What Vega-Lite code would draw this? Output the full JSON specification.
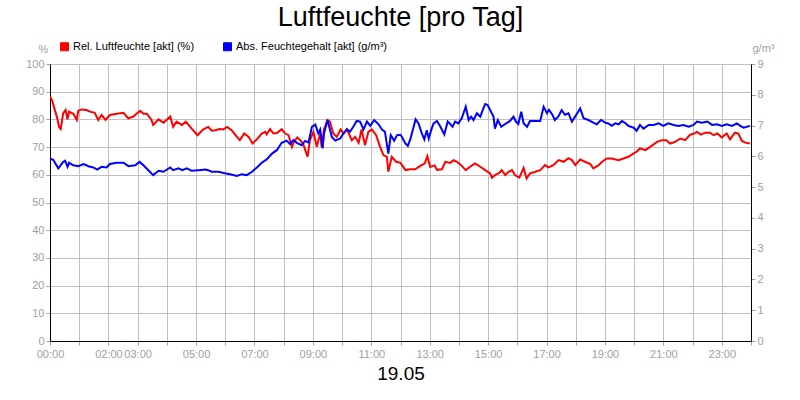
{
  "$schema": "https://vega.github.io/schema/vega-lite/v6.json",
  "width": 701,
  "height": 277,
  "autosize": {"type": "none"},
  "padding": {"left": 50, "top": 64, "right": 49, "bottom": 59},
  "background": "white",
  "title": {"text": "Luftfeuchte [pro Tag]", "font": "Liberation Sans", "fontSize": 27, "fontWeight": "normal", "color": "black", "anchor": "middle", "frame": "group", "offset": 9},
  "config": {
    "view": {"stroke": "black", "strokeWidth": 1},
    "axis": {"labelFont": "Liberation Sans", "labelFontSize": 11, "labelColor": "#a0a0a0", "tickColor": "#a0a0a0", "tickSize": 4, "domainColor": "black", "gridColor": "#c0c0c0", "gridWidth": 1, "titleFont": "Liberation Sans", "titleFontWeight": "normal"},
    "legend": {"labelFont": "Liberation Sans", "labelFontSize": 11, "labelColor": "black"}
  },
  "datasets": {
    "rel": [
      {"zeit": "2024-05-19T00:00", "wert": 88.4}, {"zeit": "2024-05-19T00:05", "wert": 86.4}, {"zeit": "2024-05-19T00:14", "wert": 81.0}, {"zeit": "2024-05-19T00:19", "wert": 77.1}, {"zeit": "2024-05-19T00:22", "wert": 76.5}, {"zeit": "2024-05-19T00:27", "wert": 82.2}, {"zeit": "2024-05-19T00:32", "wert": 83.4}, {"zeit": "2024-05-19T00:36", "wert": 80.0}, {"zeit": "2024-05-19T00:39", "wert": 82.8}, {"zeit": "2024-05-19T00:48", "wert": 82.0}, {"zeit": "2024-05-19T00:55", "wert": 79.8}, {"zeit": "2024-05-19T00:58", "wert": 83.1},
      {"zeit": "2024-05-19T01:05", "wert": 83.6}, {"zeit": "2024-05-19T01:15", "wert": 83.4}, {"zeit": "2024-05-19T01:22", "wert": 82.8}, {"zeit": "2024-05-19T01:32", "wert": 82.4}, {"zeit": "2024-05-19T01:39", "wert": 79.8}, {"zeit": "2024-05-19T01:46", "wert": 81.6}, {"zeit": "2024-05-19T01:54", "wert": 79.8},
      {"zeit": "2024-05-19T02:03", "wert": 81.6}, {"zeit": "2024-05-19T02:17", "wert": 82.0}, {"zeit": "2024-05-19T02:31", "wert": 82.4}, {"zeit": "2024-05-19T02:41", "wert": 80.4}, {"zeit": "2024-05-19T02:51", "wert": 81.0},
      {"zeit": "2024-05-19T03:05", "wert": 83.1}, {"zeit": "2024-05-19T03:12", "wert": 82.0}, {"zeit": "2024-05-19T03:19", "wert": 82.0}, {"zeit": "2024-05-19T03:28", "wert": 80.0}, {"zeit": "2024-05-19T03:32", "wert": 78.0}, {"zeit": "2024-05-19T03:43", "wert": 80.0}, {"zeit": "2024-05-19T03:53", "wert": 78.8},
      {"zeit": "2024-05-19T04:07", "wert": 81.0}, {"zeit": "2024-05-19T04:13", "wert": 77.3}, {"zeit": "2024-05-19T04:20", "wert": 79.2}, {"zeit": "2024-05-19T04:31", "wert": 78.0}, {"zeit": "2024-05-19T04:39", "wert": 79.2}, {"zeit": "2024-05-19T04:51", "wert": 76.7},
      {"zeit": "2024-05-19T05:03", "wert": 74.3}, {"zeit": "2024-05-19T05:15", "wert": 76.4}, {"zeit": "2024-05-19T05:25", "wert": 77.3}, {"zeit": "2024-05-19T05:32", "wert": 75.9}, {"zeit": "2024-05-19T05:39", "wert": 76.1}, {"zeit": "2024-05-19T05:49", "wert": 76.5}, {"zeit": "2024-05-19T05:56", "wert": 76.4},
      {"zeit": "2024-05-19T06:04", "wert": 77.3}, {"zeit": "2024-05-19T06:13", "wert": 76.1}, {"zeit": "2024-05-19T06:24", "wert": 73.7}, {"zeit": "2024-05-19T06:30", "wert": 72.5}, {"zeit": "2024-05-19T06:39", "wert": 74.9}, {"zeit": "2024-05-19T06:48", "wert": 73.7}, {"zeit": "2024-05-19T06:56", "wert": 71.3},
      {"zeit": "2024-05-19T07:05", "wert": 72.8}, {"zeit": "2024-05-19T07:15", "wert": 74.9}, {"zeit": "2024-05-19T07:22", "wert": 75.5}, {"zeit": "2024-05-19T07:25", "wert": 74.6}, {"zeit": "2024-05-19T07:32", "wert": 76.5}, {"zeit": "2024-05-19T07:39", "wert": 74.9}, {"zeit": "2024-05-19T07:46", "wert": 75.1}, {"zeit": "2024-05-19T07:56", "wert": 76.5},
      {"zeit": "2024-05-19T08:03", "wert": 74.9}, {"zeit": "2024-05-19T08:10", "wert": 74.3}, {"zeit": "2024-05-19T08:17", "wert": 70.1}, {"zeit": "2024-05-19T08:21", "wert": 71.9}, {"zeit": "2024-05-19T08:28", "wert": 73.5}, {"zeit": "2024-05-19T08:35", "wert": 72.3}, {"zeit": "2024-05-19T08:41", "wert": 70.7}, {"zeit": "2024-05-19T08:49", "wert": 66.5}, {"zeit": "2024-05-19T08:54", "wert": 72.5},
      {"zeit": "2024-05-19T09:01", "wert": 75.5}, {"zeit": "2024-05-19T09:08", "wert": 70.1}, {"zeit": "2024-05-19T09:15", "wert": 75.0}, {"zeit": "2024-05-19T09:18", "wert": 70.1}, {"zeit": "2024-05-19T09:23", "wert": 76.5}, {"zeit": "2024-05-19T09:30", "wert": 79.8}, {"zeit": "2024-05-19T09:35", "wert": 79.2}, {"zeit": "2024-05-19T09:42", "wert": 74.9}, {"zeit": "2024-05-19T09:49", "wert": 73.7}, {"zeit": "2024-05-19T09:57", "wert": 76.4},
      {"zeit": "2024-05-19T10:03", "wert": 74.9}, {"zeit": "2024-05-19T10:10", "wert": 76.4}, {"zeit": "2024-05-19T10:20", "wert": 72.5}, {"zeit": "2024-05-19T10:27", "wert": 73.7}, {"zeit": "2024-05-19T10:34", "wert": 71.6}, {"zeit": "2024-05-19T10:40", "wert": 76.4}, {"zeit": "2024-05-19T10:47", "wert": 70.7}, {"zeit": "2024-05-19T10:54", "wert": 75.5},
      {"zeit": "2024-05-19T11:01", "wert": 76.4}, {"zeit": "2024-05-19T11:10", "wert": 74.3}, {"zeit": "2024-05-19T11:18", "wert": 70.1}, {"zeit": "2024-05-19T11:25", "wert": 67.1}, {"zeit": "2024-05-19T11:32", "wert": 66.5}, {"zeit": "2024-05-19T11:35", "wert": 61.1}, {"zeit": "2024-05-19T11:42", "wert": 66.5}, {"zeit": "2024-05-19T11:51", "wert": 64.7},
      {"zeit": "2024-05-19T12:00", "wert": 64.3}, {"zeit": "2024-05-19T12:10", "wert": 61.7}, {"zeit": "2024-05-19T12:20", "wert": 62.0}, {"zeit": "2024-05-19T12:30", "wert": 62.0}, {"zeit": "2024-05-19T12:40", "wert": 63.1}, {"zeit": "2024-05-19T12:50", "wert": 64.1}, {"zeit": "2024-05-19T12:55", "wert": 66.7},
      {"zeit": "2024-05-19T13:01", "wert": 62.8}, {"zeit": "2024-05-19T13:10", "wert": 63.4}, {"zeit": "2024-05-19T13:15", "wert": 61.8}, {"zeit": "2024-05-19T13:25", "wert": 62.0}, {"zeit": "2024-05-19T13:32", "wert": 64.7}, {"zeit": "2024-05-19T13:42", "wert": 64.3}, {"zeit": "2024-05-19T13:49", "wert": 65.3}, {"zeit": "2024-05-19T13:56", "wert": 64.7},
      {"zeit": "2024-05-19T14:05", "wert": 63.4}, {"zeit": "2024-05-19T14:14", "wert": 61.7}, {"zeit": "2024-05-19T14:23", "wert": 62.9}, {"zeit": "2024-05-19T14:33", "wert": 64.1}, {"zeit": "2024-05-19T14:44", "wert": 62.9}, {"zeit": "2024-05-19T14:54", "wert": 61.7},
      {"zeit": "2024-05-19T15:04", "wert": 60.5}, {"zeit": "2024-05-19T15:08", "wert": 58.9}, {"zeit": "2024-05-19T15:14", "wert": 59.9}, {"zeit": "2024-05-19T15:23", "wert": 60.7}, {"zeit": "2024-05-19T15:28", "wert": 61.7}, {"zeit": "2024-05-19T15:35", "wert": 59.9}, {"zeit": "2024-05-19T15:42", "wert": 61.1}, {"zeit": "2024-05-19T15:49", "wert": 61.7}, {"zeit": "2024-05-19T15:55", "wert": 59.9},
      {"zeit": "2024-05-19T16:04", "wert": 59.0}, {"zeit": "2024-05-19T16:13", "wert": 62.5}, {"zeit": "2024-05-19T16:19", "wert": 58.7}, {"zeit": "2024-05-19T16:26", "wert": 60.5}, {"zeit": "2024-05-19T16:37", "wert": 61.1}, {"zeit": "2024-05-19T16:47", "wert": 61.7}, {"zeit": "2024-05-19T16:57", "wert": 63.5},
      {"zeit": "2024-05-19T17:04", "wert": 62.7}, {"zeit": "2024-05-19T17:14", "wert": 63.5}, {"zeit": "2024-05-19T17:25", "wert": 65.3}, {"zeit": "2024-05-19T17:35", "wert": 64.7}, {"zeit": "2024-05-19T17:45", "wert": 66.0}, {"zeit": "2024-05-19T17:52", "wert": 65.3}, {"zeit": "2024-05-19T17:59", "wert": 63.5},
      {"zeit": "2024-05-19T18:09", "wert": 65.5}, {"zeit": "2024-05-19T18:19", "wert": 64.7}, {"zeit": "2024-05-19T18:30", "wert": 63.9}, {"zeit": "2024-05-19T18:36", "wert": 62.3}, {"zeit": "2024-05-19T18:47", "wert": 63.5}, {"zeit": "2024-05-19T18:54", "wert": 64.7},
      {"zeit": "2024-05-19T19:04", "wert": 65.9}, {"zeit": "2024-05-19T19:14", "wert": 65.9}, {"zeit": "2024-05-19T19:28", "wert": 65.3}, {"zeit": "2024-05-19T19:38", "wert": 65.9}, {"zeit": "2024-05-19T19:48", "wert": 66.5}, {"zeit": "2024-05-19T19:59", "wert": 67.7},
      {"zeit": "2024-05-19T20:05", "wert": 68.3}, {"zeit": "2024-05-19T20:12", "wert": 69.5}, {"zeit": "2024-05-19T20:23", "wert": 68.9}, {"zeit": "2024-05-19T20:33", "wert": 70.1}, {"zeit": "2024-05-19T20:47", "wert": 71.9}, {"zeit": "2024-05-19T20:57", "wert": 72.5},
      {"zeit": "2024-05-19T21:06", "wert": 72.5}, {"zeit": "2024-05-19T21:14", "wert": 71.3}, {"zeit": "2024-05-19T21:24", "wert": 71.9}, {"zeit": "2024-05-19T21:35", "wert": 73.1}, {"zeit": "2024-05-19T21:45", "wert": 72.5}, {"zeit": "2024-05-19T21:54", "wert": 74.3},
      {"zeit": "2024-05-19T22:03", "wert": 74.9}, {"zeit": "2024-05-19T22:09", "wert": 75.5}, {"zeit": "2024-05-19T22:17", "wert": 74.5}, {"zeit": "2024-05-19T22:26", "wert": 75.2}, {"zeit": "2024-05-19T22:36", "wert": 75.2}, {"zeit": "2024-05-19T22:43", "wert": 74.3}, {"zeit": "2024-05-19T22:51", "wert": 74.9},
      {"zeit": "2024-05-19T23:00", "wert": 73.5}, {"zeit": "2024-05-19T23:10", "wert": 74.9}, {"zeit": "2024-05-19T23:17", "wert": 72.8}, {"zeit": "2024-05-19T23:27", "wert": 75.2}, {"zeit": "2024-05-19T23:34", "wert": 74.9}, {"zeit": "2024-05-19T23:41", "wert": 72.3}, {"zeit": "2024-05-19T23:48", "wert": 71.6}, {"zeit": "2024-05-19T23:58", "wert": 71.3}
    ],
    "abs": [
      {"zeit": "2024-05-19T00:00", "wert": 5.93}, {"zeit": "2024-05-19T00:07", "wert": 5.88}, {"zeit": "2024-05-19T00:17", "wert": 5.61}, {"zeit": "2024-05-19T00:27", "wert": 5.82}, {"zeit": "2024-05-19T00:31", "wert": 5.86}, {"zeit": "2024-05-19T00:36", "wert": 5.66}, {"zeit": "2024-05-19T00:39", "wert": 5.79}, {"zeit": "2024-05-19T00:48", "wert": 5.71}, {"zeit": "2024-05-19T00:58", "wert": 5.68},
      {"zeit": "2024-05-19T01:09", "wert": 5.75}, {"zeit": "2024-05-19T01:19", "wert": 5.68}, {"zeit": "2024-05-19T01:29", "wert": 5.64}, {"zeit": "2024-05-19T01:37", "wert": 5.57}, {"zeit": "2024-05-19T01:46", "wert": 5.66}, {"zeit": "2024-05-19T01:56", "wert": 5.64},
      {"zeit": "2024-05-19T02:03", "wert": 5.75}, {"zeit": "2024-05-19T02:17", "wert": 5.79}, {"zeit": "2024-05-19T02:31", "wert": 5.79}, {"zeit": "2024-05-19T02:41", "wert": 5.68}, {"zeit": "2024-05-19T02:55", "wert": 5.71},
      {"zeit": "2024-05-19T03:04", "wert": 5.82}, {"zeit": "2024-05-19T03:12", "wert": 5.71}, {"zeit": "2024-05-19T03:22", "wert": 5.55}, {"zeit": "2024-05-19T03:32", "wert": 5.39}, {"zeit": "2024-05-19T03:43", "wert": 5.53}, {"zeit": "2024-05-19T03:53", "wert": 5.5},
      {"zeit": "2024-05-19T04:07", "wert": 5.64}, {"zeit": "2024-05-19T04:13", "wert": 5.55}, {"zeit": "2024-05-19T04:24", "wert": 5.61}, {"zeit": "2024-05-19T04:32", "wert": 5.55}, {"zeit": "2024-05-19T04:41", "wert": 5.61}, {"zeit": "2024-05-19T04:51", "wert": 5.53},
      {"zeit": "2024-05-19T05:05", "wert": 5.55}, {"zeit": "2024-05-19T05:19", "wert": 5.57}, {"zeit": "2024-05-19T05:25", "wert": 5.55}, {"zeit": "2024-05-19T05:32", "wert": 5.5}, {"zeit": "2024-05-19T05:46", "wert": 5.5}, {"zeit": "2024-05-19T05:59", "wert": 5.45},
      {"zeit": "2024-05-19T06:10", "wert": 5.42}, {"zeit": "2024-05-19T06:24", "wert": 5.36}, {"zeit": "2024-05-19T06:34", "wert": 5.42}, {"zeit": "2024-05-19T06:44", "wert": 5.39}, {"zeit": "2024-05-19T06:55", "wert": 5.5},
      {"zeit": "2024-05-19T07:05", "wert": 5.64}, {"zeit": "2024-05-19T07:15", "wert": 5.79}, {"zeit": "2024-05-19T07:25", "wert": 5.9}, {"zeit": "2024-05-19T07:36", "wert": 6.09}, {"zeit": "2024-05-19T07:46", "wert": 6.2}, {"zeit": "2024-05-19T07:56", "wert": 6.44},
      {"zeit": "2024-05-19T08:06", "wert": 6.51}, {"zeit": "2024-05-19T08:13", "wert": 6.4}, {"zeit": "2024-05-19T08:20", "wert": 6.53}, {"zeit": "2024-05-19T08:27", "wert": 6.44}, {"zeit": "2024-05-19T08:37", "wert": 6.36}, {"zeit": "2024-05-19T08:44", "wert": 6.5}, {"zeit": "2024-05-19T08:51", "wert": 6.45}, {"zeit": "2024-05-19T08:58", "wert": 6.96},
      {"zeit": "2024-05-19T09:05", "wert": 7.03}, {"zeit": "2024-05-19T09:11", "wert": 6.75}, {"zeit": "2024-05-19T09:15", "wert": 6.87}, {"zeit": "2024-05-19T09:20", "wert": 6.26}, {"zeit": "2024-05-19T09:23", "wert": 6.75}, {"zeit": "2024-05-19T09:30", "wert": 7.18}, {"zeit": "2024-05-19T09:39", "wert": 6.63}, {"zeit": "2024-05-19T09:46", "wert": 6.51}, {"zeit": "2024-05-19T09:56", "wert": 6.58},
      {"zeit": "2024-05-19T10:03", "wert": 6.75}, {"zeit": "2024-05-19T10:10", "wert": 6.88}, {"zeit": "2024-05-19T10:16", "wert": 6.8}, {"zeit": "2024-05-19T10:23", "wert": 6.96}, {"zeit": "2024-05-19T10:30", "wert": 7.15}, {"zeit": "2024-05-19T10:37", "wert": 7.13}, {"zeit": "2024-05-19T10:44", "wert": 6.87}, {"zeit": "2024-05-19T10:51", "wert": 7.13}, {"zeit": "2024-05-19T10:58", "wert": 6.99},
      {"zeit": "2024-05-19T11:06", "wert": 7.18}, {"zeit": "2024-05-19T11:15", "wert": 7.04}, {"zeit": "2024-05-19T11:22", "wert": 6.87}, {"zeit": "2024-05-19T11:28", "wert": 6.8}, {"zeit": "2024-05-19T11:35", "wert": 6.09}, {"zeit": "2024-05-19T11:40", "wert": 6.69}, {"zeit": "2024-05-19T11:47", "wert": 6.51}, {"zeit": "2024-05-19T11:53", "wert": 6.69},
      {"zeit": "2024-05-19T12:00", "wert": 6.7}, {"zeit": "2024-05-19T12:03", "wert": 6.63}, {"zeit": "2024-05-19T12:10", "wert": 6.42}, {"zeit": "2024-05-19T12:15", "wert": 6.34}, {"zeit": "2024-05-19T12:20", "wert": 6.55}, {"zeit": "2024-05-19T12:27", "wert": 6.96}, {"zeit": "2024-05-19T12:31", "wert": 7.2}, {"zeit": "2024-05-19T12:37", "wert": 7.07}, {"zeit": "2024-05-19T12:44", "wert": 6.74}, {"zeit": "2024-05-19T12:49", "wert": 6.55}, {"zeit": "2024-05-19T12:54", "wert": 6.85}, {"zeit": "2024-05-19T12:58", "wert": 6.58},
      {"zeit": "2024-05-19T13:03", "wert": 6.85}, {"zeit": "2024-05-19T13:08", "wert": 7.07}, {"zeit": "2024-05-19T13:15", "wert": 7.15}, {"zeit": "2024-05-19T13:22", "wert": 6.96}, {"zeit": "2024-05-19T13:30", "wert": 6.71}, {"zeit": "2024-05-19T13:37", "wert": 7.13}, {"zeit": "2024-05-19T13:42", "wert": 7.05}, {"zeit": "2024-05-19T13:47", "wert": 6.96}, {"zeit": "2024-05-19T13:52", "wert": 7.13}, {"zeit": "2024-05-19T13:59", "wert": 7.07},
      {"zeit": "2024-05-19T14:06", "wert": 7.24}, {"zeit": "2024-05-19T14:14", "wert": 7.61}, {"zeit": "2024-05-19T14:20", "wert": 7.18}, {"zeit": "2024-05-19T14:25", "wert": 7.29}, {"zeit": "2024-05-19T14:30", "wert": 7.18}, {"zeit": "2024-05-19T14:37", "wert": 7.4}, {"zeit": "2024-05-19T14:44", "wert": 7.29}, {"zeit": "2024-05-19T14:49", "wert": 7.51}, {"zeit": "2024-05-19T14:54", "wert": 7.7}, {"zeit": "2024-05-19T14:59", "wert": 7.67},
      {"zeit": "2024-05-19T15:06", "wert": 7.45}, {"zeit": "2024-05-19T15:11", "wert": 7.29}, {"zeit": "2024-05-19T15:14", "wert": 6.9}, {"zeit": "2024-05-19T15:20", "wert": 7.18}, {"zeit": "2024-05-19T15:27", "wert": 6.96}, {"zeit": "2024-05-19T15:35", "wert": 7.05}, {"zeit": "2024-05-19T15:45", "wert": 7.15}, {"zeit": "2024-05-19T15:52", "wert": 7.29}, {"zeit": "2024-05-19T15:57", "wert": 7.13},
      {"zeit": "2024-05-19T16:02", "wert": 7.05}, {"zeit": "2024-05-19T16:08", "wert": 7.45}, {"zeit": "2024-05-19T16:13", "wert": 7.07}, {"zeit": "2024-05-19T16:20", "wert": 6.96}, {"zeit": "2024-05-19T16:26", "wert": 7.15}, {"zeit": "2024-05-19T16:37", "wert": 7.15}, {"zeit": "2024-05-19T16:47", "wert": 7.15}, {"zeit": "2024-05-19T16:54", "wert": 7.61},
      {"zeit": "2024-05-19T17:01", "wert": 7.4}, {"zeit": "2024-05-19T17:05", "wert": 7.51}, {"zeit": "2024-05-19T17:12", "wert": 7.35}, {"zeit": "2024-05-19T17:17", "wert": 7.18}, {"zeit": "2024-05-19T17:24", "wert": 7.29}, {"zeit": "2024-05-19T17:31", "wert": 7.5}, {"zeit": "2024-05-19T17:38", "wert": 7.35}, {"zeit": "2024-05-19T17:45", "wert": 7.4}, {"zeit": "2024-05-19T17:52", "wert": 7.13},
      {"zeit": "2024-05-19T18:02", "wert": 7.37}, {"zeit": "2024-05-19T18:09", "wert": 7.56}, {"zeit": "2024-05-19T18:16", "wert": 7.24}, {"zeit": "2024-05-19T18:26", "wert": 7.18}, {"zeit": "2024-05-19T18:37", "wert": 7.09}, {"zeit": "2024-05-19T18:43", "wert": 7.04}, {"zeit": "2024-05-19T18:52", "wert": 7.18},
      {"zeit": "2024-05-19T19:01", "wert": 7.09}, {"zeit": "2024-05-19T19:07", "wert": 7.07}, {"zeit": "2024-05-19T19:14", "wert": 6.99}, {"zeit": "2024-05-19T19:21", "wert": 7.07}, {"zeit": "2024-05-19T19:28", "wert": 7.04}, {"zeit": "2024-05-19T19:35", "wert": 7.15}, {"zeit": "2024-05-19T19:41", "wert": 7.09}, {"zeit": "2024-05-19T19:48", "wert": 6.99}, {"zeit": "2024-05-19T19:59", "wert": 6.93},
      {"zeit": "2024-05-19T20:05", "wert": 6.83}, {"zeit": "2024-05-19T20:12", "wert": 7.02}, {"zeit": "2024-05-19T20:19", "wert": 6.9}, {"zeit": "2024-05-19T20:30", "wert": 7.02}, {"zeit": "2024-05-19T20:40", "wert": 7.02}, {"zeit": "2024-05-19T20:50", "wert": 7.07},
      {"zeit": "2024-05-19T21:00", "wert": 6.99}, {"zeit": "2024-05-19T21:10", "wert": 7.07}, {"zeit": "2024-05-19T21:21", "wert": 7.02}, {"zeit": "2024-05-19T21:31", "wert": 6.99}, {"zeit": "2024-05-19T21:41", "wert": 7.02}, {"zeit": "2024-05-19T21:52", "wert": 6.96},
      {"zeit": "2024-05-19T22:02", "wert": 7.02}, {"zeit": "2024-05-19T22:09", "wert": 7.13}, {"zeit": "2024-05-19T22:19", "wert": 7.09}, {"zeit": "2024-05-19T22:30", "wert": 7.13}, {"zeit": "2024-05-19T22:40", "wert": 7.02}, {"zeit": "2024-05-19T22:50", "wert": 7.04},
      {"zeit": "2024-05-19T23:00", "wert": 6.99}, {"zeit": "2024-05-19T23:10", "wert": 7.04}, {"zeit": "2024-05-19T23:21", "wert": 6.99}, {"zeit": "2024-05-19T23:31", "wert": 7.07}, {"zeit": "2024-05-19T23:38", "wert": 6.99}, {"zeit": "2024-05-19T23:45", "wert": 6.93}, {"zeit": "2024-05-19T23:58", "wert": 6.99}
    ]
  },
  "encoding": {
    "x": {
      "field": "zeit",
      "type": "temporal",
      "title": "19.05",
      "scale": {"domain": [{"year": 2024, "month": 5, "date": 19, "hours": 0}, {"year": 2024, "month": 5, "date": 20, "hours": 0}]},
      "axis": {
        "values": [
          {"year": 2024, "month": 5, "date": 19, "hours": 0}, {"year": 2024, "month": 5, "date": 19, "hours": 1}, {"year": 2024, "month": 5, "date": 19, "hours": 2}, {"year": 2024, "month": 5, "date": 19, "hours": 3}, {"year": 2024, "month": 5, "date": 19, "hours": 4}, {"year": 2024, "month": 5, "date": 19, "hours": 5}, {"year": 2024, "month": 5, "date": 19, "hours": 6}, {"year": 2024, "month": 5, "date": 19, "hours": 7}, {"year": 2024, "month": 5, "date": 19, "hours": 8}, {"year": 2024, "month": 5, "date": 19, "hours": 9}, {"year": 2024, "month": 5, "date": 19, "hours": 10}, {"year": 2024, "month": 5, "date": 19, "hours": 11}, {"year": 2024, "month": 5, "date": 19, "hours": 12}, {"year": 2024, "month": 5, "date": 19, "hours": 13}, {"year": 2024, "month": 5, "date": 19, "hours": 14}, {"year": 2024, "month": 5, "date": 19, "hours": 15}, {"year": 2024, "month": 5, "date": 19, "hours": 16}, {"year": 2024, "month": 5, "date": 19, "hours": 17}, {"year": 2024, "month": 5, "date": 19, "hours": 18}, {"year": 2024, "month": 5, "date": 19, "hours": 19}, {"year": 2024, "month": 5, "date": 19, "hours": 20}, {"year": 2024, "month": 5, "date": 19, "hours": 21}, {"year": 2024, "month": 5, "date": 19, "hours": 22}, {"year": 2024, "month": 5, "date": 19, "hours": 23}, {"year": 2024, "month": 5, "date": 20, "hours": 0}
        ],
        "format": "%H:%M",
        "labelExpr": "date(datum.value) == 19 && indexof([0,2,3,5,7,9,11,13,15,17,19,21,23], hours(datum.value)) >= 0 ? datum.label : ''",
        "labelOverlap": false,
        "labelFlush": false,
        "labelPadding": 3,
        "grid": true,
        "titleFontSize": 19,
        "titleColor": "black",
        "titlePadding": 5
      }
    }
  },
  "layer": [
    {
      "data": {"name": "rel"},
      "mark": {"type": "line", "strokeWidth": 2, "clip": true},
      "encoding": {
        "y": {
          "field": "wert",
          "type": "quantitative",
          "scale": {"domain": [0, 100], "nice": false, "zero": true},
          "axis": {"orient": "left", "values": [0, 10, 20, 30, 40, 50, 60, 70, 80, 90, 100], "grid": true, "title": "%", "titleAngle": 0, "titleAlign": "center", "titleBaseline": "middle", "titleX": -7, "titleY": -15, "titleFontSize": 11, "titleColor": "#a0a0a0", "labelPadding": 2}
        },
        "color": {
          "datum": "Rel. Luftfeuchte [akt] (%)",
          "type": "nominal",
          "scale": {"domain": ["Rel. Luftfeuchte [akt] (%)", "Abs. Feuchtegehalt [akt] (g/m³)"], "range": ["#ff0000", "#0000ff"]},
          "legend": {
            "orient": "none",
            "legendX": 9,
            "legendY": -23,
            "direction": "horizontal",
            "title": null,
            "padding": 0,
            "symbolType": "square",
            "symbolSize": 64,
            "labelOffset": 3,
            "columnPadding": 26,
            "encode": {"symbols": {"update": {"fill": {"scale": "color", "field": "value"}, "stroke": {"value": "black"}, "strokeWidth": {"value": 1}, "opacity": {"value": 1}, "fillOpacity": {"value": 1}}}}
          }
        }
      }
    },
    {
      "data": {"name": "abs"},
      "mark": {"type": "line", "strokeWidth": 2, "clip": true},
      "encoding": {
        "y": {
          "field": "wert",
          "type": "quantitative",
          "scale": {"domain": [0, 9], "nice": false, "zero": true},
          "axis": {"orient": "right", "values": [0, 1, 2, 3, 4, 5, 6, 7, 8, 9], "grid": false, "title": "g/m³", "titleAngle": 0, "titleAlign": "center", "titleBaseline": "middle", "titleX": 12, "titleY": -16, "titleFontSize": 11, "titleColor": "#a0a0a0", "labelPadding": 2}
        },
        "color": {"datum": "Abs. Feuchtegehalt [akt] (g/m³)", "type": "nominal"}
      }
    }
  ],
  "resolve": {"scale": {"y": "independent"}}
}
